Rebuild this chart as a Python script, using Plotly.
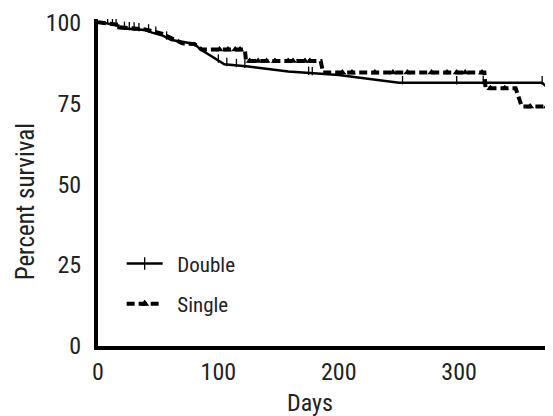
import plotly.graph_objects as go

# Survival curves (days, percent survival)
double_days = [0, 5, 17, 17, 39, 45, 53, 61, 70, 80, 86, 97, 105, 125, 158, 200, 250, 369, 374, 380]
double_pct  = [100, 99.8, 99.0, 98.2, 97.6, 96.8, 96.0, 94.5, 94.0, 93.3, 91.4, 89.0, 87.0, 86.3, 84.8, 83.7, 81.3, 81.3, 79.6, 79.6]

single_days = [0, 17, 17, 39, 53, 61, 70, 80, 86, 122, 123, 185, 187, 321, 322, 347, 352, 380]
single_pct  = [100, 99.2, 98.5, 97.8, 96.5, 95.0, 93.5, 93.3, 91.6, 91.6, 88.0, 88.0, 84.5, 84.5, 79.6, 79.6, 74.0, 74.0]

# Censored observations
double_cens_days = [8, 12, 15, 22, 26, 30, 34, 42, 48, 57, 100, 107, 115, 122, 175, 178, 253, 298, 320, 369]
double_cens_pct  = [99.9, 99.4, 99.2, 98.1, 98.0, 97.9, 97.7, 97.3, 96.6, 95.1, 88.0, 86.9, 86.6, 86.4, 84.2, 84.1, 81.3, 81.3, 81.3, 81.3]

single_cens_days = [101, 108, 114, 118, 126, 133, 140, 147, 158, 162, 172, 176, 203, 211, 230, 245, 257, 277, 290, 298, 305, 319, 326, 338, 359, 373]
single_cens_pct  = [91.6, 91.6, 91.6, 91.6, 88.0, 88.0, 88.0, 88.0, 88.0, 88.0, 88.0, 88.0, 84.5, 84.5, 84.5, 84.5, 84.5, 84.5, 84.5, 84.5, 84.5, 84.5, 79.6, 79.6, 74.0, 74.0]

x_ticks = [0, 100, 200, 300]
y_ticks = [0, 25, 50, 75, 100]

FONT = "Liberation Sans Narrow, Roboto Condensed, DejaVu Sans Condensed, Arial Narrow, sans-serif"
TXT = "#222"
TICK_LIFT = 0.8  # censor ticks drawn above the curve

fig = go.Figure()

fig.add_trace(go.Scatter(x=double_days, y=double_pct, mode="lines",
                         line=dict(color="black", width=2.5), showlegend=False, legendgroup="d"))
fig.add_trace(go.Scatter(x=double_cens_days, y=[p + TICK_LIFT for p in double_cens_pct], mode="markers",
                         marker=dict(symbol="line-ns", size=6, line=dict(color="black", width=1.3)),
                         showlegend=False, legendgroup="d"))
fig.add_trace(go.Scatter(x=single_days, y=single_pct, mode="lines",
                         line=dict(color="black", width=4, dash="8px,4px"), showlegend=False, legendgroup="s"))
fig.add_trace(go.Scatter(x=single_cens_days, y=single_cens_pct, mode="markers",
                         marker=dict(symbol="triangle-up", size=7, color="black"),
                         showlegend=False, legendgroup="s"))

# legend entries
fig.add_trace(go.Scatter(x=[None], y=[None], mode="lines+markers", name="\u00a0\u00a0Double", legendgroup="d",
                         line=dict(color="black", width=2.5),
                         marker=dict(symbol="line-ns", size=9, line=dict(color="black", width=1.3))))
fig.add_trace(go.Scatter(x=[None], y=[None], mode="lines+markers", name="\u00a0\u00a0Single", legendgroup="s",
                         line=dict(color="black", width=4, dash="8px,4px"),
                         marker=dict(symbol="triangle-up", size=8, color="black")))

fig.update_layout(
    width=545, height=408,
    margin=dict(l=90, r=0, t=11, b=70),
    paper_bgcolor="white", plot_bgcolor="white",
    font=dict(family=FONT, size=24, color=TXT),
    legend=dict(x=0.052, y=0.19, xanchor="left", yanchor="middle", itemwidth=36,
                font=dict(family=FONT, size=21, color=TXT),
                bgcolor="rgba(0,0,0,0)", tracegroupgap=10, traceorder="grouped"),
    xaxis=dict(range=[0, 378], tickvals=x_ticks, showline=True, linewidth=4, linecolor="black",
               showgrid=False, zeroline=False, ticks="", ticklabelstandoff=1),
    yaxis=dict(range=[0, 101], tickvals=y_ticks, showline=True, linewidth=4, linecolor="black",
               showgrid=False, zeroline=False, ticks="", ticklabelstandoff=8),
    annotations=[
        dict(text="Percent survival", xref="paper", yref="paper", x=-0.16, y=0.44,
             textangle=-90, showarrow=False, xanchor="center", yanchor="middle",
             font=dict(family=FONT, size=25, color=TXT)),
        dict(text="Days", xref="paper", yref="paper", x=0.466, y=-0.174,
             showarrow=False, xanchor="center", yanchor="middle",
             font=dict(family=FONT, size=24, color=TXT)),
    ],
)

fig.write_html("out.html")
